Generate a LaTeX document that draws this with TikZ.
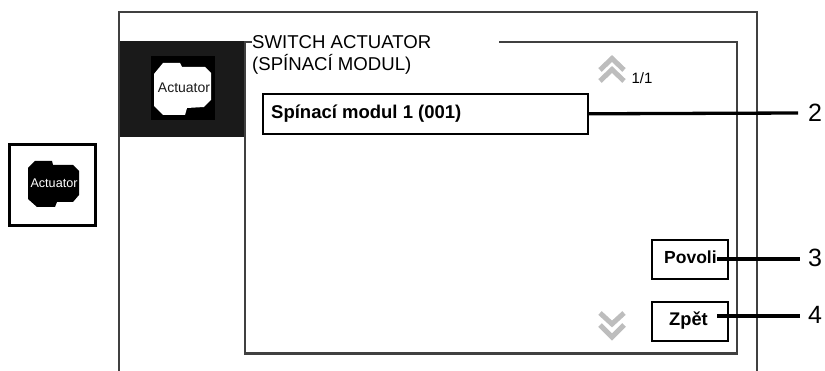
\documentclass[tikz,border=0pt]{standalone}
\usepackage{fontspec}
\setmainfont{Liberation Sans}
\definecolor{framegrey}{HTML}{404040}
\definecolor{chevgrey}{HTML}{BDBDBD}
\definecolor{panel}{HTML}{1A1A1A}
\tikzset{
  frameline/.style={draw=framegrey,line width=2.4pt},
  btn/.style={draw=black,line width=1.6pt,fill=white,inner sep=0pt,anchor=north west},
  boldtxt/.style={font=\fontsize{17.5}{20}\selectfont\bfseries,inner sep=0pt},
  leader/.style={draw=black,line width=3.3pt},
  numlabel/.style={font=\fontsize{25}{28}\selectfont,inner sep=0pt,anchor=center},
  chev/.style={draw=chevgrey,line width=5pt,miter limit=10},
  icontxt/.style={text=white,inner sep=0pt}
}
\begin{document}
\begin{tikzpicture}[x=1pt,y=-1pt]
\useasboundingbox (0,0) rectangle (825,371);
% outer frame
\draw[frameline] (119,371) -- (119,12) -- (757,12) -- (757,371);
% dark panel
\fill[panel] (120,41) rectangle (245,137);
% inner frame
\draw[frameline] (499,42) -- (737,42) -- (737,353.5) -- (245,353.5) -- (245,42) -- (252,42);
% panel icon
\fill[black] (151,56) rectangle (215,120);
\fill[white] (163,63) -- (180,63) -- (182,67) -- (205,67) -- (211,73) -- (211,100) -- (204,107) -- (187,108) -- (185,115) -- (163,115) -- (154,106) -- (154,74) -- cycle;
\node[icontxt,text=panel,font=\fontsize{14}{16}\selectfont] (paneltxt) at (184,87.5) {Actuator};
% small icon
\node[draw=black,line width=2.6pt,minimum width=86pt,minimum height=81pt,inner sep=0pt] (iconbox) at (52.5,185) {};
\fill[black] (35,161) -- (52,161) -- (53,165) -- (73,165) -- (79,171) -- (79,195) -- (73,202) -- (57,202) -- (55,207) -- (37,207) -- (28,199) -- (28,168) -- cycle;
\node[icontxt,font=\fontsize{12.6}{15}\selectfont] (smalltxt) at (54,183.5) {Actuator};
% title
\node[anchor=north west,inner sep=0pt,align=left,font=\fontsize{18.6}{22.6}\selectfont] (title) at (252,35) {SWITCH ACTUATOR\\(SPÍNACÍ MODUL)};
% list box
\node[btn,minimum width=325pt,minimum height=40pt] (listbox) at (262,93) {};
\node[boldtxt,font=\fontsize{18.5}{20}\selectfont\bfseries,anchor=west] (listtxt) at (271,113.5) {Spínací modul 1 (001)};
% buttons
\node[btn,minimum width=76pt,minimum height=39pt] (povoli) at (651,239) {};
\node[boldtxt,anchor=west] (povolitxt) at (664,257) {Povoli};
\node[btn,minimum width=76pt,minimum height=39pt] (zpet) at (651,301) {};
\node[boldtxt,font=\fontsize{18.3}{20}\selectfont\bfseries,anchor=west] (zpettxt) at (669,320.5) {Zpět};
% chevrons
\draw[chev] (600,70) -- (612,58.5) -- (624,70);
\draw[chev] (600,81) -- (612,69.5) -- (624,81);
\draw[chev] (600,313) -- (612,324) -- (624,313);
\draw[chev] (600,325) -- (612,337) -- (624,325);
\node[inner sep=0pt,font=\fontsize{15}{17}\selectfont] (page) at (642,78) {1/1};
% labels and leaders
\node[numlabel] (n2) at (815,113) {2};
\node[numlabel] (n3) at (815,258) {3};
\node[numlabel] (n4) at (815,315) {4};
\coordinate (p3) at (717,259);
\coordinate (p4) at (717,316);
\coordinate (e2) at (798,113);
\coordinate (e3) at (800,259);
\coordinate (e4) at (800,316);
\draw[leader] (listbox.east) -- (e2);
\draw[leader] (p3) -- (e3);
\draw[leader] (p4) -- (e4);
\end{tikzpicture}
\end{document}
